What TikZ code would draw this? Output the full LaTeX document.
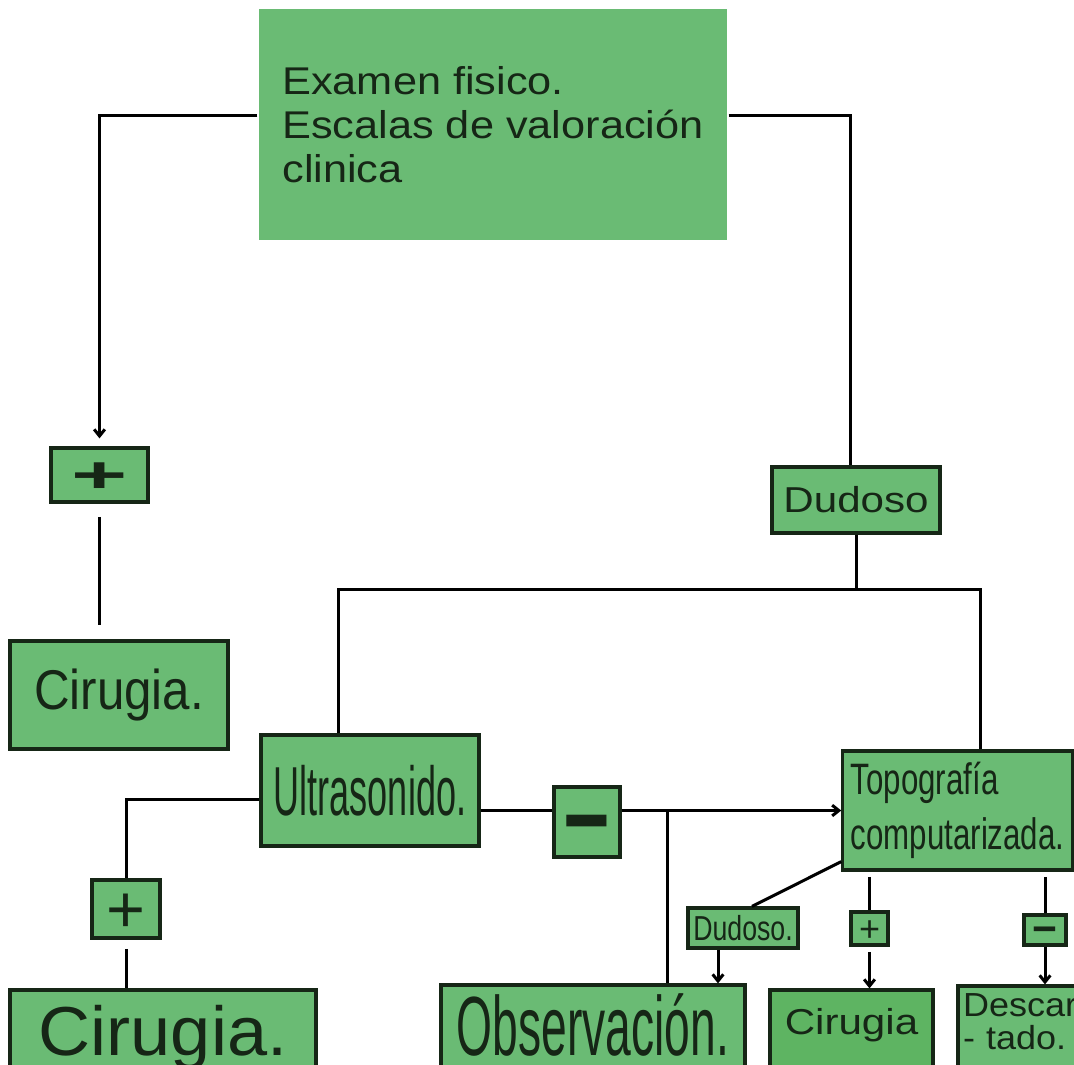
\documentclass[tikz,border=0pt]{standalone}
\usepackage{fontspec}
\usepackage{graphicx}
\setmainfont{Liberation Sans}
\usetikzlibrary{arrows.meta}

\definecolor{verde}{RGB}{106,187,116}
\definecolor{verdeosc}{RGB}{94,180,98}
\definecolor{tinta}{RGB}{22,38,22}

% size, baselineskip, horizontal stretch
\newcommand\fuente[3]{\fontsize{#1}{#2}\selectfont\addfontfeatures{FakeStretch=#3}}

\tikzset{every picture/.style={line width=2.25pt}}
\tikzset{
	caja/.style={draw=tinta, fill=verde, text=tinta, inner sep=0pt, line width=2.4pt},
	flecha/.style={-{Straight Barb[length=5pt,width=8pt]}},
}

\begin{document}
\begin{tikzpicture}[x=0.75pt,y=0.75pt,yscale=-1,xscale=1]
		\useasboundingbox (0,0) rectangle (1074,1064);
		\clip (0,0) rectangle (1074,1064);
		
		%Shape: Rectangle [examen]
		\node[caja, draw=none, minimum width=351pt, minimum height=173.25pt, align=left, font=\fuente{29}{33}{1.12}] (examen) at (493,124.5) {Examen fisico.\\Escalas de valoración\\clinica};
		%Shape: Rectangle [dudoso1]
		\node[caja, minimum width=126pt, minimum height=49.5pt, font=\fuente{27}{27}{1.17}] (dudoso1) at (856,500) {Dudoso};
		%Shape: Rectangle [mas1]
		\node[caja, minimum width=72.75pt, minimum height=40.5pt, text height=26.8pt, text depth=0pt, font=\fontsize{38}{38}\selectfont\bfseries] (mas1) at (99.5,475) {\scalebox{1.9}[1]{+}};
		%Shape: Rectangle [cirugia1]
		\node[caja, minimum width=163.5pt, minimum height=81pt, font=\fuente{42}{42}{0.88}] (cirugia1) at (119,695) {Cirugia.};
		%Shape: Rectangle [ultra]
		\node[caja, minimum width=163.5pt, minimum height=83.25pt, font=\fuente{52}{52}{0.52}] (ultra) at (370,790.5) {Ultrasonido.};
		%Shape: Rectangle [menos1]
		\node[caja, minimum width=49.5pt, minimum height=52.5pt, text height=51pt, text depth=0pt, font=\fontsize{40}{40}\selectfont\bfseries] (menos1) at (587,822) {\scalebox{1.5}[2]{−}};
		%Shape: Rectangle [topo]
		\node[caja, minimum width=171.75pt, minimum height=89.25pt, text width=160pt, inner xsep=6pt, align=left, font=\fuente{33}{41}{0.71}] (topo) at (957.5,810.5) {Topografía\\computarizada.};
		%Shape: Rectangle [mas2]
		\node[caja, minimum width=51pt, minimum height=43.5pt, text height=35.3pt, text depth=0pt, font=\fontsize{50}{50}\selectfont] (mas2) at (126,909) {+};
		%Shape: Rectangle [cirugia2]
		\node[caja, minimum width=229.5pt, minimum height=63.75pt, text height=37.5pt, text depth=3.75pt, font=\fuente{52}{52}{1.04}] (cirugia2) at (163,1032.5) {Cirugia.};
		%Shape: Rectangle [dudoso2]
		\node[caja, minimum width=82.5pt, minimum height=30pt, font=\fuente{26}{26}{0.77}] (dudoso2) at (743,928) {Dudoso.};
		%Shape: Rectangle [obs]
		\node[caja, minimum width=228pt, minimum height=67.5pt, text height=45pt, text depth=7.5pt, font=\fuente{63}{63}{0.55}] (obs) at (593,1030) {Observación.};
		%Shape: Rectangle [mas3]
		\node[caja, minimum width=27.75pt, minimum height=24.75pt, text height=19pt, text depth=0pt, font=\fontsize{27}{27}\selectfont] (mas3) at (869.5,928.5) {+};
		%Shape: Rectangle [cirugia3]
		\node[caja, fill=verdeosc, minimum width=122.25pt, minimum height=63.75pt, text height=19.5pt, text depth=17.25pt, font=\fuente{27}{27}{1.17}] (cirugia3) at (851.5,1032.5) {Cirugia};
		%Shape: Rectangle [menos2]
		\node[caja, minimum width=31.5pt, minimum height=22.5pt, text height=20.5pt, text depth=0pt, font=\fontsize{32}{32}\selectfont\bfseries] (menos2) at (1045,930) {−};
		%Shape: Rectangle [descar]
		\node[caja, minimum width=91.5pt, minimum height=66.75pt, text width=84pt, inner xsep=3.75pt, align=left, text height=18pt, text depth=38.9pt, font=\fuente{25}{25}{1.08}] (descar) at (1019,1030.5) {Descar\\- tado.};
		
		\coordinate (rama) at (856,589);
		\coordinate (cruce) at (667,810.5);
		
		\draw[flecha, shorten >=6pt] ([yshift=-6.4pt]examen.west) -| (mas1.north);
		\draw ([yshift=-6.4pt]examen.east) -| ([xshift=-4.5pt]dudoso1.north);
		\draw[shorten <=10pt, shorten >=10.5pt] (mas1.south) -- (mas1.south |- cirugia1.north);
		\draw (dudoso1.south) -- (rama);
		\draw ([xshift=-24pt]ultra.north) |- (rama) -| ([xshift=17.6pt]topo.north);
		\draw ([yshift=7pt]ultra.west) -| (mas2.north);
		\draw[shorten <=7pt] (mas2.south) -- (mas2.south |- cirugia2.north);
		\draw (ultra.east |- topo.west) -- (menos1.west |- topo.west);
		\draw[flecha] (menos1.east |- topo.west) -- (topo.west);
		\draw (cruce) -- (cruce |- obs.north);
		\draw ([yshift=-7.5pt]topo.south west) -- ([xshift=6.75pt]dudoso2.north);
		\draw[flecha] ([xshift=-18.75pt]dudoso2.south) -- ([xshift=-18.75pt]dudoso2.south |- obs.north);
		\draw[shorten <=4pt] (mas3.north |- topo.south) -- (mas3.north);
		\draw[flecha, shorten <=4pt] (mas3.south) -- (mas3.south |- cirugia3.north);
		\draw[shorten <=4pt] (menos2.north |- topo.south) -- (menos2.north);
		\draw[flecha] (menos2.south) -- (menos2.south |- descar.north);
		
	\end{tikzpicture}
\end{document}
